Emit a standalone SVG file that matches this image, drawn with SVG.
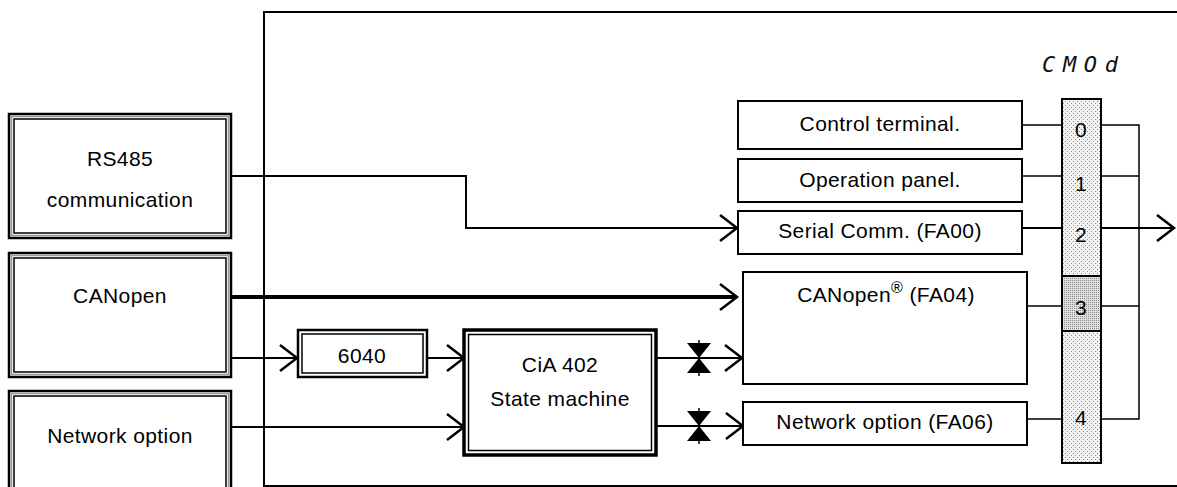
<svg xmlns="http://www.w3.org/2000/svg" xmlns:xlink="http://www.w3.org/1999/xlink" width="1177" height="487" viewBox="0 0 1177 487">
<style>
  text { font-family: "Liberation Sans", Arial, sans-serif; font-size: 21px; fill: #000; text-anchor: middle; letter-spacing: 0.4px; }
  .box { fill: #fff; stroke: #000; stroke-width: 2; }
  .outer { fill: #fff; stroke: #000; stroke-width: 2.5; }
  .mid { fill: none; stroke: #999; stroke-width: 1.5; }
  .inner { fill: none; stroke: #000; stroke-width: 1.5; }
  .thick { fill: #fff; stroke: #000; stroke-width: 3.5; }
  .ln { fill: none; stroke: #000; stroke-width: 2; }
  .lnb { fill: none; stroke: #000; stroke-width: 4; }
  .lnt { fill: none; stroke: #000; stroke-width: 1.5; }
  .seg { font-family: "DejaVu Sans Mono", monospace; font-style: italic; font-size: 22px; text-anchor: start; fill: #111; letter-spacing: 0; }
</style>
<defs>
  <marker id="arr" markerUnits="userSpaceOnUse" markerWidth="24" markerHeight="32" refX="20" refY="16" orient="auto" overflow="visible">
    <path d="M3,3 L20,16 L3,29" fill="none" stroke="#000" stroke-width="2.5"/>
  </marker>
  <pattern id="dots" width="4" height="4" patternUnits="userSpaceOnUse">
    <rect width="4" height="4" fill="#f4f4f4"/>
    <rect x="1" y="1" width="1" height="1" fill="#8a8a8a"/>
    <rect x="3" y="3" width="1" height="1" fill="#8a8a8a"/>
  </pattern>
  <pattern id="dense" width="2" height="2" patternUnits="userSpaceOnUse">
    <rect width="2" height="2" fill="#e0e0e0"/>
    <rect x="0" y="0" width="1" height="1" fill="#888"/>
  </pattern>
  <g id="valve">
    <polygon points="-12,-15 12,-15 0,0" fill="#000"/>
    <polygon points="0,0 -12,15 12,15" fill="#000"/>
    <line x1="0" y1="-18" x2="0" y2="18" stroke="#000" stroke-width="1.5"/>
  </g>
</defs>

<g id="frame">
  <path d="M1177,12 H264 V486 H1177" fill="none" stroke="#000" stroke-width="2"/>
</g>

<g id="connectors">
  <polyline class="ln" points="231,176 466,176 466,228 737,228" marker-end="url(#arr)"/>
  <line class="lnb" x1="231" y1="297" x2="737" y2="297" marker-end="url(#arr)"/>
  <line class="ln" x1="231" y1="358" x2="297" y2="358" marker-end="url(#arr)"/>
  <line class="ln" x1="427" y1="358" x2="464" y2="358" marker-end="url(#arr)"/>
  <line class="ln" x1="225" y1="427" x2="464" y2="427" marker-end="url(#arr)"/>
  <line class="ln" x1="656" y1="358" x2="742" y2="358" marker-end="url(#arr)"/>
  <line class="ln" x1="656" y1="426" x2="743" y2="426" marker-end="url(#arr)"/>
  <use xlink:href="#valve" href="#valve" x="699" y="358"/>
  <use xlink:href="#valve" href="#valve" x="699" y="426"/>
  <line class="lnt" x1="1022" y1="125" x2="1062" y2="125"/>
  <line class="lnt" x1="1022" y1="176" x2="1062" y2="176"/>
  <line class="ln" x1="1022" y1="228" x2="1062" y2="228"/>
  <line class="lnt" x1="1024" y1="306" x2="1062" y2="306"/>
  <line class="lnt" x1="1024" y1="419" x2="1062" y2="419"/>
  <path class="lnt" d="M1101,125 H1139 V419 H1101 M1101,176 H1139 M1101,306 H1139"/>
  <line class="ln" x1="1101" y1="228" x2="1174" y2="228" marker-end="url(#arr)"/>
</g>

<g id="rs485">
  <rect class="outer" x="9" y="114" width="222" height="124"/>
  <rect class="mid" x="11.5" y="116.5" width="217" height="119"/>
  <rect class="inner" x="14" y="119" width="212" height="114"/>
  <text x="120" y="166">RS485</text>
  <text x="120" y="207">communication</text>
</g>

<g id="canopen-src">
  <rect class="outer" x="9" y="253" width="222" height="124"/>
  <rect class="mid" x="11.5" y="255.5" width="217" height="119"/>
  <rect class="inner" x="14" y="258" width="212" height="114"/>
  <text x="120" y="303">CANopen</text>
</g>

<g id="network-src">
  <rect class="outer" x="9" y="391" width="222" height="110"/>
  <rect class="mid" x="11.5" y="393.5" width="217" height="110"/>
  <rect class="inner" x="14" y="396" width="212" height="110"/>
  <text x="120" y="443">Network option</text>
</g>

<g id="obj6040">
  <rect class="outer" x="298" y="330" width="129" height="47"/>
  <rect class="inner" x="302" y="334" width="121" height="39"/>
  <text x="362" y="363">6040</text>
</g>

<g id="cia402">
  <rect class="thick" x="464" y="330" width="192" height="125"/>
  <rect class="inner" x="468.5" y="334.5" width="183" height="116"/>
  <text x="560" y="372">CiA 402</text>
  <text x="560" y="406">State machine</text>
</g>

<g id="control-terminal">
  <rect class="box" x="738" y="101" width="284" height="48"/>
  <text x="880" y="131">Control terminal.</text>
</g>

<g id="operation-panel">
  <rect class="box" x="738" y="159" width="284" height="43"/>
  <text x="880" y="187">Operation panel.</text>
</g>

<g id="serial-comm">
  <rect class="box" x="738" y="211" width="284" height="43"/>
  <text x="880" y="238">Serial Comm. (FA00)</text>
</g>

<g id="canopen-fa04">
  <rect class="box" x="743" y="272" width="284" height="112"/>
  <text x="886" y="302">CANopen<tspan font-size="16" dy="-9">®</tspan><tspan dy="9"> (FA04)</tspan></text>
</g>

<g id="network-fa06">
  <rect class="box" x="743" y="402" width="284" height="43"/>
  <text x="885" y="429">Network option (FA06)</text>
</g>

<g id="cmod-switch">
  <text class="seg" x="1042" y="72" textLength="76" lengthAdjust="spacing">CMOd</text>
  <rect x="1062" y="99" width="39" height="364" fill="url(#dots)" stroke="#000" stroke-width="2"/>
  <rect x="1062" y="276" width="39" height="55" fill="url(#dense)" stroke="#000" stroke-width="2"/>
  <text x="1081" y="137">0</text>
  <text x="1081" y="191">1</text>
  <text x="1081" y="242">2</text>
  <text x="1081" y="315">3</text>
  <text x="1081" y="425">4</text>
</g>
</svg>
